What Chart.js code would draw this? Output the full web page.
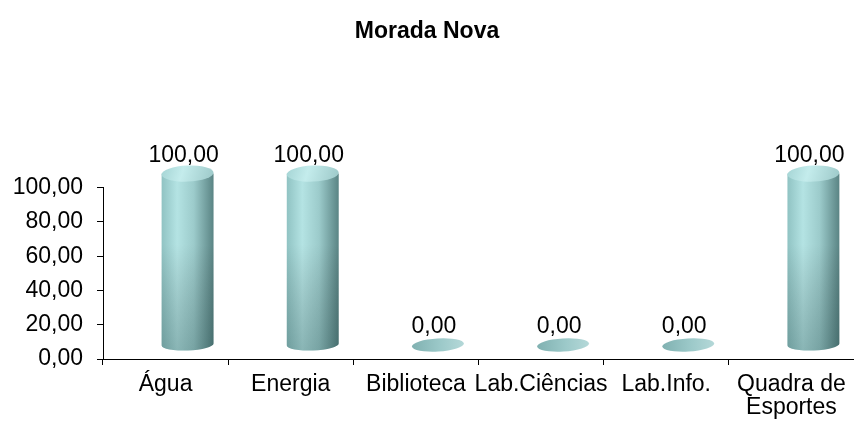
<!DOCTYPE html>
<html>
<head>
<meta charset="utf-8">
<script src="https://cdn.jsdelivr.net/npm/chart.js@4/dist/chart.umd.min.js"></script>
<style>
html,body{margin:0;padding:0;background:#fff;}
canvas{display:block;}
</style>
</head>
<body>
<canvas id="c" width="854" height="425"></canvas>
<script>
const titleText = 'Morada Nova';
const categories = ['Água', 'Energia', 'Biblioteca', 'Lab.Ciências', 'Lab.Info.', ['Quadra de', 'Esportes']];
const values = [100, 100, 0, 0, 0, 100];
const yTicks = [0, 20, 40, 60, 80, 100];

const FONT = "'Liberation Sans', Arial, sans-serif";
const fmt = v => Number(v).toFixed(2).replace('.', ',');

const cylinderPlugin = {
  id: 'cylinders',
  afterDatasetsDraw(chart) {
    const ctx = chart.ctx;
    const meta = chart.getDatasetMeta(0);
    const DX = 22, DY = 14, RYT = 8, RYB = 6;
    meta.data.forEach((el, i) => {
      const v = values[i];
      const w = el.width;
      const cx = el.x + DX;
      const left = cx - w / 2, right = cx + w / 2;
      const ybot = el.base - DY;
      const ytop = el.y - DY;
      ctx.save();
      if (v > 0) {
        const body = () => {
          ctx.beginPath();
          ctx.moveTo(left, ytop);
          ctx.lineTo(left, ybot);
          ctx.ellipse(cx, ybot, w / 2, RYB, -0.04, Math.PI, 0, true);
          ctx.lineTo(right, ytop);
          ctx.closePath();
        };
        const g = ctx.createLinearGradient(left, 0, right, 0);
        g.addColorStop(0, '#90c3c3');
        g.addColorStop(0.3, '#b4e3e3');
        g.addColorStop(0.62, '#9ccbcb');
        g.addColorStop(1, '#5a8484');
        ctx.fillStyle = g;
        body();
        ctx.fill();
        const gv = ctx.createLinearGradient(0, ytop, 0, ybot + RYB);
        gv.addColorStop(0, 'rgba(0,0,0,0)');
        gv.addColorStop(0.4, 'rgba(0,0,0,0)');
        gv.addColorStop(1, 'rgba(10,45,45,0.25)');
        ctx.fillStyle = gv;
        body();
        ctx.fill();
        const gt = ctx.createLinearGradient(left, ytop - RYT, right, ytop + RYT);
        gt.addColorStop(0, '#a4d4d4');
        gt.addColorStop(0.4, '#c4ecec');
        gt.addColorStop(1, '#9cc8c8');
        ctx.fillStyle = gt;
        ctx.beginPath();
        ctx.ellipse(cx, ytop, w / 2, RYT, -0.04, 0, Math.PI * 2);
        ctx.fill();
      } else {
        const gz = ctx.createLinearGradient(left, 0, right, 0);
        gz.addColorStop(0, '#80b1b1');
        gz.addColorStop(0.55, '#9cc9c9');
        gz.addColorStop(1, '#b4d8d8');
        ctx.fillStyle = gz;
        ctx.beginPath();
        ctx.ellipse(cx, ybot, w / 2, 6.5, -0.06, 0, Math.PI * 2);
        ctx.fill();
      }
      ctx.fillStyle = '#000';
      ctx.font = '23px ' + FONT;
      ctx.textAlign = 'center';
      ctx.textBaseline = 'alphabetic';
      ctx.fillText(fmt(v), cx - 4, ytop - 12);
      ctx.restore();
    });
  }
};

new Chart(document.getElementById('c'), {
  type: 'bar',
  data: {
    labels: categories,
    datasets: [{
      data: values,
      backgroundColor: 'rgba(0,0,0,0)',
      borderWidth: 0,
      barPercentage: 0.415,
      categoryPercentage: 1
    }]
  },
  options: {
    responsive: false,
    animation: false,
    layout: { padding: { top: 18, left: 0, right: 0, bottom: -2 } },
    plugins: {
      legend: { display: false },
      tooltip: { enabled: false },
      title: {
        display: true,
        text: titleText,
        color: '#000',
        font: { family: FONT, size: 23, weight: 'bold', lineHeight: 1.2 },
        padding: { top: 0, bottom: 142 }
      }
    },
    scales: {
      x: {
        grid: { drawOnChartArea: false, drawTicks: true, tickLength: 6, color: '#000', offset: true },
        border: { display: true, color: '#000', width: 1 },
        ticks: { color: '#000', font: { family: FONT, size: 23, lineHeight: 1.0 }, padding: 8, maxRotation: 0, autoSkip: false }
      },
      y: {
        min: 0,
        max: 100,
        afterFit(scale) { scale.width = 103; },
        afterBuildTicks(scale) { scale.ticks = yTicks.map(v => ({ value: v })); },
        grid: { drawOnChartArea: false, drawTicks: true, tickLength: 6, color: '#000' },
        border: { display: true, color: '#000', width: 1 },
        ticks: { color: '#000', font: { family: FONT, size: 23 }, padding: 14, callback: v => fmt(v) }
      }
    }
  },
  plugins: [cylinderPlugin]
});
</script>
</body>
</html>
